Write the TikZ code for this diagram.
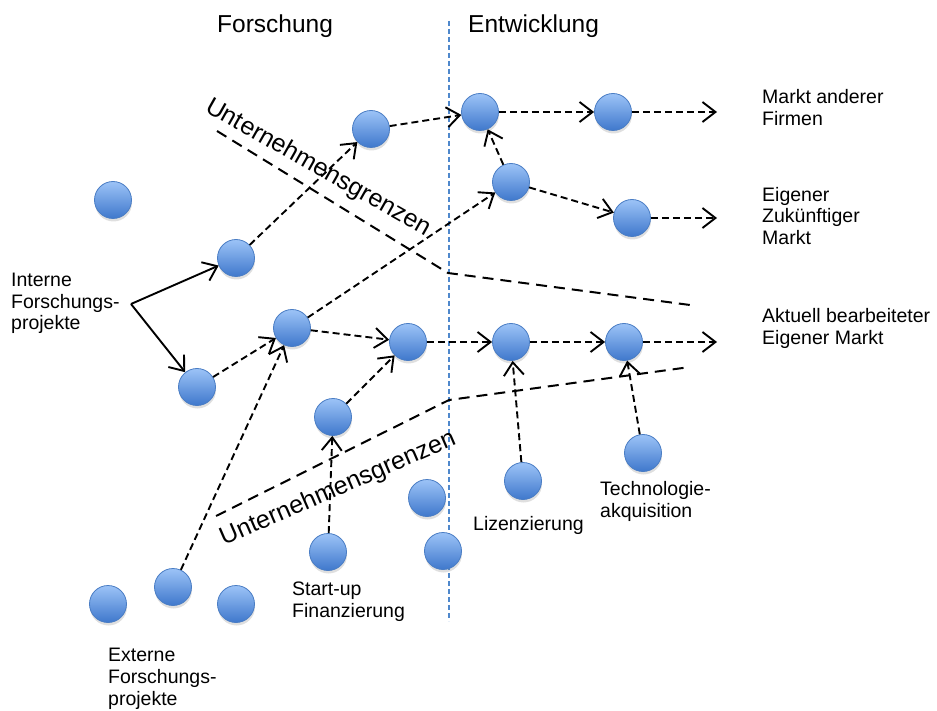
\documentclass[tikz,border=0pt]{standalone}
\usepackage{fontspec}
\setmainfont{Liberation Sans}
\usetikzlibrary{arrows.meta,shadows}
\definecolor{ballTop}{HTML}{9CC3F7}
\definecolor{ballBot}{HTML}{3F78CC}
\definecolor{ballRim}{HTML}{4A7DC4}
\definecolor{phaseBlue}{HTML}{4F88CC}
\begin{document}
\begin{tikzpicture}[x=1pt,y=-1pt,
  ball/.style={circle, minimum size=37pt, inner sep=0pt, draw=ballRim, line width=0.8pt,
    top color=ballTop, bottom color=ballBot,
    drop shadow={shadow xshift=0.5pt, shadow yshift=-3pt, opacity=0.25}},
  tipopen/.style={-{Straight Barb[length=13pt,width=20pt,line width=1.9pt]}},
  flow/.style={draw, line width=1.9pt, dash pattern=on 7pt off 4pt, tipopen},
  solidflow/.style={draw, line width=1.9pt, tipopen},
  boundary/.style={draw, line width=2pt, dash pattern=on 11pt off 7pt},
  phase/.style={draw=phaseBlue, line width=1.5pt, dash pattern=on 5pt off 3pt},
  % multi-line labels are anchored at the baseline of their last line
  label/.style={anchor=base west, align=left, inner sep=0pt,
    font=\fontsize{19.5}{21.7}\selectfont},
  heading/.style={anchor=base west, inner sep=0pt, font=\fontsize{24.5}{28}\selectfont},
  fence/.style={inner sep=0pt, font=\fontsize{25}{28}\selectfont}
]
\useasboundingbox (0,0) rectangle (937,711);

% phase divider
\coordinate (phT) at (449,21);
\coordinate (phB) at (449,621);
\draw[phase] (phT) -- (phB);

% company boundaries
\coordinate (uA) at (217,131);
\coordinate (uB) at (448,273);
\coordinate (uC) at (690,305);
\coordinate (lA) at (216,516);
\coordinate (lB) at (449,400);
\coordinate (lC) at (690,367);
\draw[boundary] (uA) -- (uB) -- (uC);
\draw[boundary] (lA) -- (lB) -- (lC);
\node[fence, rotate=-29.5] (fenceU) at (318,168) {Unternehmensgrenzen};
\node[fence, rotate=23.5] (fenceL) at (338,489) {Unternehmensgrenzen};

% headings
\node[heading] (hF) at (217,33) {Forschung};
\node[heading] (hE) at (468,33) {Entwicklung};

% projects
\node[ball] (a1) at (113,200) {};
\node[ball] (b) at (236,258) {};
\node[ball] (c) at (197,387) {};
\node[ball] (d) at (371,129) {};
\node[ball] (e) at (292,328) {};
\node[ball] (f) at (480,112) {};
\node[ball] (g) at (613,112) {};
\node[ball] (h) at (511,182) {};
\node[ball] (i) at (632,218) {};
\node[ball] (j) at (408,342) {};
\node[ball] (k) at (511,342) {};
\node[ball] (l) at (624,342) {};
\node[ball] (m) at (333,417) {};
\node[ball] (n) at (427,498) {};
\node[ball] (o) at (443,551) {};
\node[ball] (p) at (328,552) {};
\node[ball] (q) at (523,481) {};
\node[ball] (r) at (643,453) {};
\node[ball] (s) at (108,604) {};
\node[ball] (t) at (173,587) {};
\node[ball] (u) at (236,604) {};

% labels
\node[label] (lblInt) at (11,330) {Interne\\Forschungs-\\projekte};
\node[label] (lblExt) at (108,705) {Externe\\Forschungs-\\projekte};
\node[label] (lblStart) at (292,617) {Start-up\\Finanzierung};
\node[label] (lblLiz) at (473,530) {Lizenzierung};
\node[label] (lblTech) at (600,517) {Technologie-\\akquisition};
\node[label] (lblM1) at (762,125.5) {Markt anderer\\Firmen};
\node[label] (lblM2) at (762,244.5) {Eigener\\Zukünftiger\\Markt};
\node[label] (lblM3) at (762,344.5) {Aktuell bearbeiteter\\Eigener Markt};

% market exits
\coordinate (outG) at (717,112);
\coordinate (outI) at (717,218);
\coordinate (outL) at (717,342);
\coordinate (intSrc) at (131,304);

% internal start
\draw[solidflow] (intSrc) -- (b);
\draw[solidflow] (intSrc) -- (c);

% flows
\draw[flow] (b) -- (d);
\draw[flow] (d) -- (f);
\draw[flow] (f) -- (g);
\draw[flow] (g) -- (outG);
\draw[flow] (h) -- (f);
\draw[flow] (h) -- (i);
\draw[flow] (i) -- (outI);
\draw[flow] (c) -- (e);
\draw[flow] (e) -- (h);
\draw[flow] (e) -- (j);
\draw[flow] (j) -- (k);
\draw[flow] (k) -- (l);
\draw[flow] (l) -- (outL);
\draw[flow] (m) -- (j);
\draw[flow] (p) -- (m);
\draw[flow] (t) -- (e);
\draw[flow] (q) -- (k);
\draw[flow] (r) -- (l);
\end{tikzpicture}
\end{document}
